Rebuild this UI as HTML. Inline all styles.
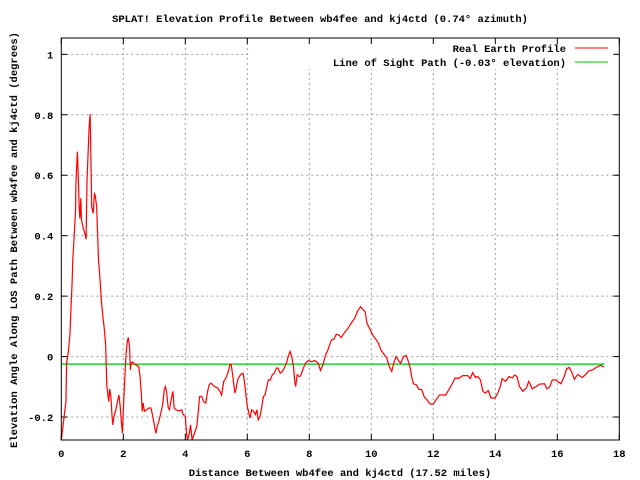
<!DOCTYPE html>
<html><head><meta charset="utf-8"><style>
html,body{margin:0;padding:0;background:#fff;width:640px;height:480px;overflow:hidden}
svg{display:block}
text{font-family:"Liberation Mono","DejaVu Sans Mono",monospace;font-size:10.5px;font-weight:bold;fill:#000}
</style></head><body>
<svg id="chart" width="640" height="480">
<text x="320" y="22" text-anchor="middle">SPLAT! Elevation Profile Between wb4fee and kj4ctd (0.74° azimuth)</text>
<text x="472" y="0" text-anchor="middle" transform="translate(-458,-225) rotate(-90 472 240)"></text>
<g id="grid"></g>
<g id="ticks"></g>
<g id="series"></g>
<g id="legend"></g>
<rect x="61.3" y="38" width="558" height="402" fill="none" stroke="#000" stroke-width="1"/>
<text x="340" y="476" text-anchor="middle">Distance Between wb4fee and kj4ctd (17.52 miles)</text>
<text x="0" y="0" text-anchor="middle" transform="translate(17,240) rotate(-90)">Elevation Angle Along LOS Path Between wb4fee and kj4ctd (degrees)</text>
</svg>
<script>
const xTicks=[0,2,4,6,8,10,12,14,16,18];
const yTicks=[1,0.8,0.6,0.4,0.2,0,-0.2];
const yTickLabels=["1","0.8","0.6","0.4","0.2","0","-0.2"];
const profileX=[0,0.15,0.17,0.23,0.28,0.31,0.35,0.37,0.41,0.46,0.47,0.5,0.52,0.54,0.58,0.6,0.63,0.65,0.71,0.76,0.8,0.83,0.87,0.9,0.93,0.95,0.98,1.03,1.07,1.1,1.14,1.17,1.2,1.25,1.29,1.33,1.39,1.43,1.45,1.47,1.51,1.53,1.56,1.6,1.63,1.66,1.7,1.76,1.81,1.86,1.9,1.94,1.97,2.0,2.04,2.09,2.13,2.16,2.2,2.23,2.25,2.29,2.37,2.5,2.54,2.58,2.61,2.64,2.68,2.75,2.83,2.89,2.94,3.0,3.05,3.08,3.16,3.21,3.27,3.32,3.36,3.4,3.45,3.49,3.54,3.6,3.64,3.7,3.81,3.88,3.93,4.0,4.04,4.07,4.13,4.17,4.22,4.37,4.42,4.46,4.53,4.59,4.66,4.72,4.77,4.83,4.94,5.04,5.12,5.17,5.24,5.31,5.39,5.44,5.48,5.52,5.56,5.6,5.63,5.69,5.74,5.81,5.86,5.9,5.95,5.99,6.05,6.09,6.14,6.2,6.26,6.31,6.35,6.41,6.46,6.52,6.57,6.62,6.68,6.74,6.81,6.87,6.94,6.99,7.06,7.13,7.19,7.26,7.32,7.38,7.43,7.49,7.53,7.56,7.61,7.67,7.72,7.77,7.83,7.88,7.97,8.07,8.18,8.29,8.36,8.44,8.53,8.6,8.71,8.79,8.87,8.96,9.03,9.12,9.25,9.36,9.46,9.56,9.65,9.73,9.8,9.86,9.94,10.04,10.15,10.23,10.31,10.42,10.5,10.58,10.66,10.73,10.8,10.9,10.95,11.03,11.12,11.18,11.25,11.3,11.36,11.45,11.53,11.63,11.71,11.82,11.9,12.0,12.09,12.2,12.4,12.5,12.61,12.7,12.82,12.95,13.11,13.19,13.27,13.36,13.43,13.52,13.6,13.68,13.77,13.86,13.99,14.08,14.16,14.22,14.33,14.44,14.55,14.62,14.7,14.78,14.89,15.0,15.08,15.19,15.32,15.43,15.59,15.66,15.75,15.84,15.94,16.12,16.23,16.3,16.39,16.48,16.55,16.66,16.8,16.9,17.01,17.14,17.3,17.41,17.5];
const profileY=[-0.28,-0.149,-0.022,0.017,0.077,0.154,0.248,0.32,0.388,0.485,0.568,0.639,0.678,0.617,0.485,0.457,0.524,0.452,0.424,0.408,0.388,0.584,0.689,0.766,0.802,0.686,0.496,0.474,0.542,0.529,0.496,0.408,0.32,0.254,0.187,0.143,0.088,0.039,-0.033,-0.099,-0.132,-0.149,-0.107,-0.132,-0.187,-0.226,-0.198,-0.176,-0.149,-0.127,-0.165,-0.22,-0.254,-0.176,-0.088,0.011,0.05,0.064,0.033,-0.044,-0.022,-0.018,-0.026,-0.033,-0.066,-0.121,-0.181,-0.154,-0.181,-0.176,-0.17,-0.17,-0.192,-0.226,-0.254,-0.237,-0.209,-0.187,-0.159,-0.11,-0.099,-0.121,-0.17,-0.176,-0.143,-0.115,-0.17,-0.176,-0.18,-0.176,-0.192,-0.198,-0.254,-0.276,-0.254,-0.226,-0.276,-0.232,-0.181,-0.132,-0.132,-0.149,-0.154,-0.115,-0.093,-0.088,-0.099,-0.104,-0.115,-0.127,-0.082,-0.071,-0.049,-0.026,-0.026,-0.055,-0.088,-0.121,-0.11,-0.077,-0.066,-0.057,-0.055,-0.077,-0.121,-0.159,-0.187,-0.203,-0.176,-0.181,-0.192,-0.176,-0.209,-0.198,-0.17,-0.132,-0.127,-0.104,-0.077,-0.077,-0.06,-0.055,-0.038,-0.038,-0.055,-0.049,-0.038,-0.022,0.0,0.017,0.0,-0.033,-0.082,-0.099,-0.06,-0.066,-0.064,-0.049,-0.033,-0.022,-0.013,-0.017,-0.013,-0.022,-0.046,-0.027,0.006,0.022,0.055,0.057,0.074,0.071,0.063,0.077,0.094,0.112,0.126,0.151,0.165,0.156,0.149,0.11,0.094,0.072,0.057,0.044,0.022,0.006,-0.005,-0.033,-0.049,-0.019,0.0,-0.017,-0.022,-0.002,0.004,-0.011,-0.035,-0.066,-0.09,-0.093,-0.108,-0.11,-0.134,-0.146,-0.157,-0.157,-0.143,-0.127,-0.127,-0.11,-0.09,-0.071,-0.072,-0.063,-0.063,-0.073,-0.053,-0.069,-0.066,-0.077,-0.115,-0.121,-0.112,-0.137,-0.137,-0.121,-0.099,-0.073,-0.082,-0.066,-0.071,-0.061,-0.066,-0.099,-0.115,-0.104,-0.082,-0.107,-0.099,-0.091,-0.09,-0.106,-0.101,-0.077,-0.077,-0.09,-0.064,-0.04,-0.036,-0.055,-0.075,-0.059,-0.069,-0.061,-0.048,-0.044,-0.033,-0.029,-0.035];
const losX=[0,17.52];
const losY=[-0.025,-0.025];

const NS="http://www.w3.org/2000/svg";
const L=61.3,R=619.3,T=38,B=440;
const xMin=0,xMax=18,yMin=-0.276,yMax=1.054;
function sx(v){return L+(v-xMin)/(xMax-xMin)*(R-L);}
function sy(v){return B-(v-yMin)/(yMax-yMin)*(B-T);}
function mk(tag,attrs,parent){const e=document.createElementNS(NS,tag);for(const k in attrs)e.setAttribute(k,attrs[k]);parent.appendChild(e);return e;}
const grid=document.getElementById('grid'),ticks=document.getElementById('ticks'),series=document.getElementById('series'),legend=document.getElementById('legend');
xTicks.forEach(v=>{
  const x=sx(v);
  if(v>0&&v<18){const g=mk('line',{x1:x,x2:x,y1:T,y2:B,stroke:'#a0a0a0','stroke-dasharray':'2,3'},grid);
  
  }
  const t1=mk('line',{x1:x,x2:x,y1:B,y2:B-6,stroke:'#000'},ticks);
  
  
  const t2=mk('line',{x1:x,x2:x,y1:T,y2:T+6,stroke:'#000'},ticks);
  
  
  const lb=mk('text',{x:x,y:B+17,'text-anchor':'middle'},ticks);lb.textContent=String(v);
  
  
});
yTicks.forEach((v,i)=>{
  const y=sy(v);
  const g=mk('line',{x1:L,x2:R,y1:y,y2:y,stroke:'#a0a0a0','stroke-dasharray':'2,3'},grid);
  
  
  const t1=mk('line',{x1:L,x2:L+6,y1:y,y2:y,stroke:'#000'},ticks);
  
  
  const t2=mk('line',{x1:R,x2:R-6,y1:y,y2:y,stroke:'#000'},ticks);
  
  
  const lb=mk('text',{x:L-8,y:y+4,'text-anchor':'end'},ticks);lb.textContent=yTickLabels[i];
  
  
});
const bg=mk('rect',{x:250,y:39,width:368,height:30,fill:'#fff'},grid);


const los=mk('polyline',{points:losX.map((x,i)=>sx(x)+','+sy(losY[i])).join(' '),fill:'none',stroke:'#00c000','stroke-width':1.2},series);


const prof=mk('polyline',{points:profileX.map((x,i)=>sx(x)+','+sy(Math.max(profileY[i],yMin))).join(' '),fill:'none',stroke:'#ff0000','stroke-width':1.2},series);


const l1=mk('text',{x:566,y:52,'text-anchor':'end'},legend);l1.textContent='Real Earth Profile';


const s1=mk('line',{x1:575,x2:608,y1:48,y2:48,stroke:'#ff0000'},legend);


const l2=mk('text',{x:566,y:66,'text-anchor':'end'},legend);l2.textContent='Line of Sight Path (-0.03° elevation)';


const s2=mk('line',{x1:575,x2:608,y1:62,y2:62,stroke:'#00c000'},legend);


</script>
</body></html>
